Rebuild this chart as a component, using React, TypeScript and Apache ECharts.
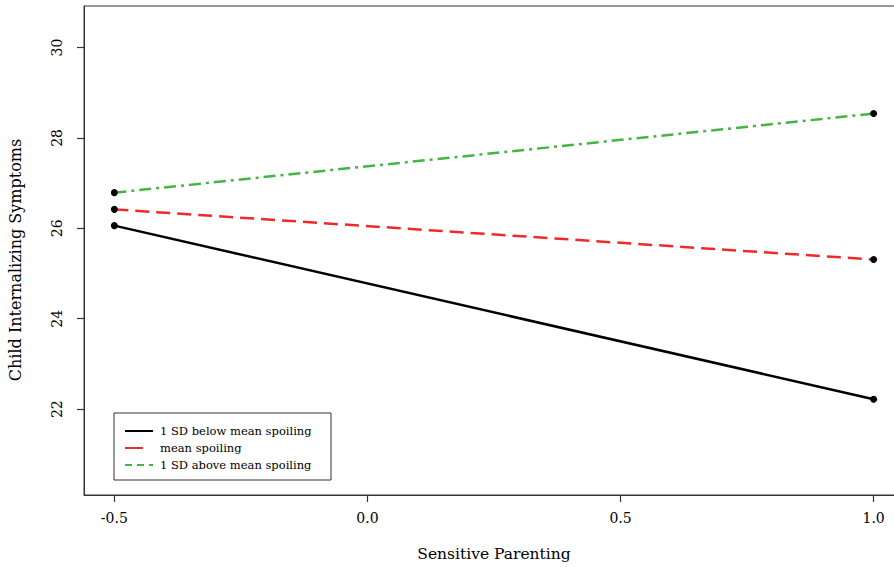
import React, { useEffect, useRef } from "react";
import * as echarts from "echarts";

const xValues = [-0.5, 1.0];
const seriesNames = ["1 SD below mean spoiling", "mean spoiling", "1 SD above mean spoiling"];
const belowMean = [26.06, 22.22];
const meanSpoil = [26.42, 25.31];
const aboveMean = [26.79, 28.54];
const seriesColors = ["#000000", "#ee2a2a", "#44b444"];
const xTicks = [-0.5, 0.0, 0.5, 1.0];
const yTicks = [22, 24, 26, 28, 30];

const FONT = "DejaVu Serif";

export default function App() {
  const ref = useRef<HTMLDivElement>(null);
  useEffect(() => {
    if (!ref.current) return;
    const chart = echarts.init(ref.current, null, { renderer: "svg" });
    const allData = [belowMean, meanSpoil, aboveMean];
    const lineTypes: any[] = ["solid", [14, 7], [12, 5, 3, 5]];
    const series = allData.map((vals, i) => ({
      type: "line",
      name: seriesNames[i],
      data: xValues.map((x, j) => [x, vals[j]]),
      symbol: "circle",
      symbolSize: 7,
      itemStyle: { color: "#000" },
      lineStyle: { color: seriesColors[i], width: 2.5, type: lineTypes[i] },
      z: 3 - i,
    }));

    const legendX = 114;
    const legendY = 413;
    const legendItems: any[] = [
      {
        type: "rect",
        shape: { x: legendX, y: legendY, width: 217, height: 67 },
        style: { fill: "#fff", stroke: "#333", lineWidth: 1 },
      },
    ];
    seriesNames.forEach((name, i) => {
      const y = legendY + 18 + i * 17;
      legendItems.push({
        type: "line",
        shape: { x1: legendX + 11, y1: y, x2: legendX + 39, y2: y },
        style: { stroke: seriesColors[i], lineWidth: 2, lineDash: i === 0 ? null : i === 1 ? [18, 20] : [7, 5] },
      });
      legendItems.push({
        type: "text",
        x: legendX + 46,
        y,
        style: { text: name, font: `11.5px "${FONT}"`, fill: "#000", textVerticalAlign: "middle" },
      });
    });

    const tickStyle = { show: true, inside: false, length: 7, lineStyle: { color: "#333", width: 1.2 } };

    chart.setOption({
      animation: false,
      backgroundColor: "#fff",
      grid: {
        left: 84,
        top: 6,
        width: 820,
        height: 489,
        show: true,
        borderColor: "#333",
        borderWidth: 1,
        backgroundColor: "transparent",
        outerBoundsMode: "none",
      },
      xAxis: {
        type: "value",
        min: -0.56,
        max: 1.06,
        axisLine: { show: true, onZero: false, lineStyle: { color: "#333", width: 1 } },
        splitLine: { show: false },
        axisTick: { ...tickStyle, customValues: xTicks },
        axisLabel: {
          customValues: xTicks,
          margin: 16,
          fontFamily: FONT,
          fontSize: 14,
          color: "#000",
          formatter: (v: number) => v.toFixed(1),
        },
        name: "Sensitive Parenting",
        nameLocation: "middle",
        nameGap: 51,
        nameTextStyle: { fontFamily: FONT, fontSize: 15.5, color: "#000" },
      },
      yAxis: {
        type: "value",
        min: 20.1,
        max: 30.92,
        axisLine: { show: true, onZero: false, lineStyle: { color: "#333", width: 1 } },
        splitLine: { show: false },
        axisTick: { ...tickStyle, customValues: yTicks },
        axisLabel: {
          customValues: yTicks,
          rotate: 90,
          margin: 20,
          fontFamily: FONT,
          fontSize: 14,
          color: "#000",
        },
      },
      graphic: [
        {
          type: "text",
          x: 15,
          y: 260,
          rotation: Math.PI / 2,
          style: {
            text: "Child Internalizing Symptoms",
            font: `16px "${FONT}"`,
            fill: "#000",
            textAlign: "center",
            textVerticalAlign: "middle",
          },
        },
        ...legendItems,
      ],
      series,
    });
    return () => chart.dispose();
  }, []);
  return (
    <div style={{ position: "absolute", left: 0, top: 0, width: 894, height: 567, overflow: "hidden" }}>
      <div ref={ref} style={{ width: 930, height: 567 }} />
    </div>
  );
}
